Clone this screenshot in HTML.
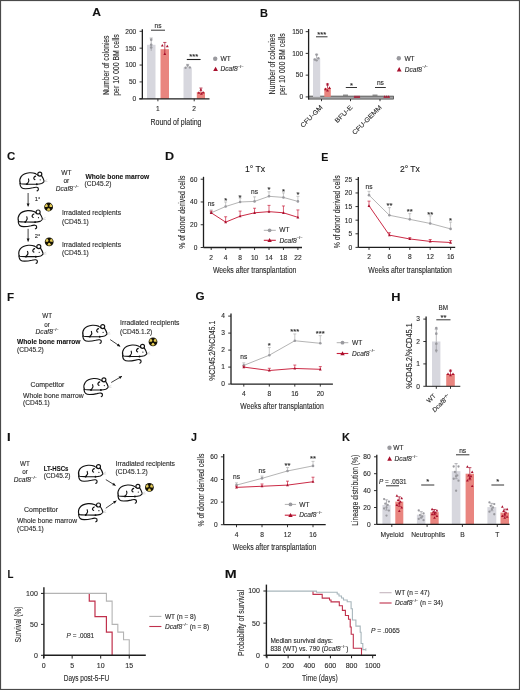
<!DOCTYPE html>
<html><head><meta charset="utf-8"><title>Figure</title>
<style>html,body{margin:0;padding:0;background:#fff;}svg{display:block;will-change:transform;}text{font-family:"Liberation Sans",sans-serif;stroke:#2a2a2a;stroke-width:0.12px;}</style>
</head><body>
<svg width="520" height="690" viewBox="0 0 520 690" font-family="Liberation Sans, sans-serif" fill="#2a2a2a">
<defs><g id="mouse" fill="none" stroke="#111" stroke-width="1.15" stroke-linecap="round" stroke-linejoin="round"><path d="M-0.1,11.6 C-0.8,9.5 -0.6,7 0.8,5 C2.2,3 5,1.4 9.1,1.05 C11.5,0.9 13.8,1.3 15.3,1.95 C16,2.3 16.6,2.7 17.5,3.4"/><path d="M21.2,3.9 C22.4,5.6 23.4,7.6 23.9,9.65 C23.2,10.6 22.4,11.3 21.4,11.8 C19.8,12.3 18.2,12.5 16.5,12.5 L6.65,12.4 C4.5,12.3 2,12.2 0.6,12 C0.2,11.9 0,11.8 -0.1,11.6"/><circle cx="19.5" cy="2.35" r="2.0" fill="#fff"/><path d="M8.2,7.2 C8.8,8.4 8.6,10.2 7.6,11.2 C7.3,11.6 7,12 6.65,12.4"/><path d="M15.3,4.4 C13.9,4.9 13.2,6.2 13.6,7 C13.9,7.6 14.2,7.8 14.6,7.9"/><path d="M-0.4,12.1 C-0.2,13.8 0.2,15 1.2,15.9 C2.2,16.8 3.6,17 5.2,17 C7.5,17 10.5,16.6 12.5,16.1 C14.2,15.6 15.5,15.4 16.5,15.6 C17.6,15.8 18.2,16.6 18.1,17.5 C18,18.4 17.5,19 16.8,19.2"/><circle cx="19.9" cy="8.1" r="0.6" fill="#111" stroke="none"/><circle cx="6.65" cy="12.4" r="0.95" fill="#111" stroke="none"/><circle cx="16.5" cy="12.5" r="0.95" fill="#111" stroke="none"/><path d="M24.2,9.4 L26.6,8 M24.3,9.9 L26.8,9.8" stroke="#bbb" stroke-width="0.5"/></g><g id="rad"><circle cx="0" cy="0" r="4.4" fill="#151205"/><path d="M-1.2,-0 L-3.7,-0 A3.7,3.7 0 0 1 -1.85,-3.2 L-0.6,-1.04 A1.2,1.2 0 0 0 -1.2,-0 Z" fill="#e4cb55"/><path d="M0.6,-1.04 L1.85,-3.2 A3.7,3.7 0 0 1 3.7,0 L1.2,0 A1.2,1.2 0 0 0 0.6,-1.04 Z" fill="#e4cb55"/><path d="M0.6,1.04 L1.85,3.2 A3.7,3.7 0 0 1 -1.85,3.2 L-0.6,1.04 A1.2,1.2 0 0 0 0.6,1.04 Z" fill="#e4cb55"/></g></defs>
<text transform="translate(92.3 16.35) scale(1.023 1)" x="0" y="0" font-size="11.8" font-weight="bold" fill="#111" stroke="#111">A</text>
<rect x="147" y="44.8" width="8.5" height="54" fill="#d7d7de"/>
<rect x="160.5" y="49.19" width="8.5" height="49.61" fill="#e9857f"/>
<rect x="183.5" y="67.41" width="8.3" height="31.39" fill="#d7d7de"/>
<rect x="196.8" y="92.05" width="8.2" height="6.75" fill="#e9857f"/>
<line x1="151.2" y1="44.8" x2="151.2" y2="38.05" stroke="#9a9a9f" stroke-width="0.7"/>
<line x1="149.6" y1="38.05" x2="152.8" y2="38.05" stroke="#9a9a9f" stroke-width="0.7"/>
<line x1="151.2" y1="44.8" x2="151.2" y2="50.87" stroke="#9a9a9f" stroke-width="0.7"/>
<line x1="164.8" y1="49.19" x2="164.8" y2="42.44" stroke="#a80f2c" stroke-width="0.7"/>
<line x1="163.2" y1="42.44" x2="166.4" y2="42.44" stroke="#a80f2c" stroke-width="0.7"/>
<line x1="164.8" y1="49.19" x2="164.8" y2="54.92" stroke="#a80f2c" stroke-width="0.7"/>
<line x1="187.6" y1="67.41" x2="187.6" y2="64.38" stroke="#9a9a9f" stroke-width="0.7"/>
<line x1="186" y1="64.38" x2="189.2" y2="64.38" stroke="#9a9a9f" stroke-width="0.7"/>
<line x1="200.9" y1="92.05" x2="200.9" y2="88" stroke="#a80f2c" stroke-width="0.7"/>
<line x1="199.3" y1="88" x2="202.5" y2="88" stroke="#a80f2c" stroke-width="0.7"/>
<circle cx="151.2" cy="39.74" r="1.3" fill="#9a9a9f"/>
<circle cx="151.2" cy="44.8" r="1.3" fill="#9a9a9f"/>
<circle cx="151.2" cy="47.5" r="1.3" fill="#9a9a9f"/>
<polygon points="162.3,43.97 160.88,46.6 163.73,46.6" fill="#a80f2c"/>
<polygon points="167.3,44.65 165.88,47.27 168.73,47.27" fill="#a80f2c"/>
<polygon points="164.8,52.41 163.38,55.04 166.23,55.04" fill="#a80f2c"/>
<circle cx="185.6" cy="67.75" r="1.2" fill="#9a9a9f"/>
<circle cx="187.6" cy="65.39" r="1.2" fill="#9a9a9f"/>
<circle cx="189.8" cy="67.41" r="1.2" fill="#9a9a9f"/>
<polygon points="198.9,91.22 197.47,93.85 200.33,93.85" fill="#a80f2c"/>
<polygon points="200.9,88.19 199.47,90.81 202.33,90.81" fill="#a80f2c"/>
<polygon points="203.1,90.89 201.67,93.51 204.53,93.51" fill="#a80f2c"/>
<polygon points="201.4,92.24 199.97,94.86 202.83,94.86" fill="#a80f2c"/>
<line x1="142.35" y1="29.2" x2="142.35" y2="98.8" stroke="#1e1e1e" stroke-width="1.3"/>
<line x1="139.55" y1="98.8" x2="142.35" y2="98.8" stroke="#1e1e1e" stroke-width="0.9"/>
<text x="136.25" y="101.18" font-size="6.6" text-anchor="end">0</text>
<line x1="139.55" y1="81.92" x2="142.35" y2="81.92" stroke="#1e1e1e" stroke-width="0.9"/>
<text x="136.25" y="84.3" font-size="6.6" text-anchor="end">50</text>
<line x1="139.55" y1="65.05" x2="142.35" y2="65.05" stroke="#1e1e1e" stroke-width="0.9"/>
<text x="136.25" y="67.43" font-size="6.6" text-anchor="end">100</text>
<line x1="139.55" y1="48.17" x2="142.35" y2="48.17" stroke="#1e1e1e" stroke-width="0.9"/>
<text x="136.25" y="50.55" font-size="6.6" text-anchor="end">150</text>
<line x1="139.55" y1="31.3" x2="142.35" y2="31.3" stroke="#1e1e1e" stroke-width="0.9"/>
<text x="136.25" y="33.68" font-size="6.6" text-anchor="end">200</text>
<line x1="139.2" y1="98.8" x2="209.5" y2="98.8" stroke="#1e1e1e" stroke-width="1.3"/>
<line x1="157.9" y1="98.8" x2="157.9" y2="101.3" stroke="#1e1e1e" stroke-width="0.9"/>
<text x="157.9" y="111.1" font-size="6.6" text-anchor="middle">1</text>
<line x1="194.2" y1="98.8" x2="194.2" y2="101.3" stroke="#1e1e1e" stroke-width="0.9"/>
<text x="194.2" y="111.1" font-size="6.6" text-anchor="middle">2</text>
<text x="176" y="125" font-size="8.4" text-anchor="middle" textLength="51" lengthAdjust="spacingAndGlyphs">Round of plating</text>
<text x="0" y="0" transform="translate(109.2 65.2) rotate(-90)" font-size="8.4" text-anchor="middle" textLength="59.5" lengthAdjust="spacingAndGlyphs">Number of colonies</text>
<text x="0" y="0" transform="translate(118.6 65) rotate(-90)" font-size="8.4" text-anchor="middle" textLength="61.5" lengthAdjust="spacingAndGlyphs">per 10 000 BM cells</text>
<line x1="151" y1="30.2" x2="165" y2="30.2" stroke="#1e1e1e" stroke-width="0.9"/>
<text x="158" y="28" font-size="6.6" text-anchor="middle">ns</text>
<line x1="186.8" y1="59.5" x2="200.6" y2="59.5" stroke="#1e1e1e" stroke-width="1.1"/>
<text x="193.7" y="59.2" font-size="7.6" text-anchor="middle">***</text>
<circle cx="215.2" cy="58.7" r="2.2" fill="#9a9a9f"/>
<text x="220.5" y="60.5" font-size="6.6">WT</text>
<polygon points="215.6,66.7 213.22,71.08 217.97,71.08" fill="#a80f2c"/>
<text x="220.5" y="71.1" font-size="6.6" fill="#2a2a2a"><tspan font-style="italic">Dcaf8</tspan><tspan font-size="4.09" dy="-3.3">&#8722;/&#8722;</tspan><tspan dy="3.3"></tspan></text>
<text transform="translate(260.07 16.5) scale(0.931 1)" x="0" y="0" font-size="11.8" font-weight="bold" fill="#111" stroke="#111">B</text>
<rect x="308.6" y="96.1" width="85" height="3" fill="#a2a2a4" stroke="#3a3a3a" stroke-width="0.7"/>
<rect x="313" y="58.62" width="7.2" height="38.28" fill="#d7d7de"/>
<rect x="324.3" y="88.2" width="6.5" height="8.7" fill="#e9857f"/>
<line x1="316.6" y1="58.62" x2="316.6" y2="54.27" stroke="#9a9a9f" stroke-width="0.7"/>
<line x1="315" y1="54.27" x2="318.2" y2="54.27" stroke="#9a9a9f" stroke-width="0.7"/>
<line x1="327.5" y1="88.2" x2="327.5" y2="83.85" stroke="#a80f2c" stroke-width="0.7"/>
<line x1="325.9" y1="83.85" x2="329.1" y2="83.85" stroke="#a80f2c" stroke-width="0.7"/>
<circle cx="314.8" cy="59.49" r="1.2" fill="#9a9a9f"/>
<circle cx="316.6" cy="54.71" r="1.2" fill="#9a9a9f"/>
<circle cx="318.4" cy="58.19" r="1.2" fill="#9a9a9f"/>
<circle cx="316.6" cy="60.36" r="1.2" fill="#9a9a9f"/>
<polygon points="325.5,87.57 324.07,90.2 326.93,90.2" fill="#a80f2c"/>
<polygon points="327.5,82.79 326.07,85.41 328.93,85.41" fill="#a80f2c"/>
<polygon points="329.5,86.27 328.07,88.89 330.93,88.89" fill="#a80f2c"/>
<polygon points="327.5,88.88 326.07,91.5 328.93,91.5" fill="#a80f2c"/>
<line x1="343" y1="95.2" x2="348" y2="95.2" stroke="#777" stroke-width="1.2"/>
<polygon points="355,95.2 353.67,97.65 356.33,97.65" fill="#a80f2c"/>
<polygon points="357,95.2 355.67,97.65 358.33,97.65" fill="#a80f2c"/>
<polygon points="359,95.2 357.67,97.65 360.33,97.65" fill="#a80f2c"/>
<line x1="372.5" y1="95.2" x2="377.5" y2="95.2" stroke="#777" stroke-width="1.2"/>
<polygon points="384.7,95.2 383.37,97.65 386.03,97.65" fill="#a80f2c"/>
<polygon points="386.7,95.2 385.37,97.65 388.03,97.65" fill="#a80f2c"/>
<polygon points="388.7,95.2 387.37,97.65 390.03,97.65" fill="#a80f2c"/>
<line x1="308.6" y1="29" x2="308.6" y2="99.5" stroke="#1e1e1e" stroke-width="1.3"/>
<line x1="305.7" y1="96.9" x2="308.5" y2="96.9" stroke="#1e1e1e" stroke-width="0.9"/>
<text x="303.2" y="99.2" font-size="6.6" text-anchor="end">0</text>
<line x1="305.7" y1="75.15" x2="308.5" y2="75.15" stroke="#1e1e1e" stroke-width="0.9"/>
<text x="303.2" y="77.45" font-size="6.6" text-anchor="end">50</text>
<line x1="305.7" y1="53.4" x2="308.5" y2="53.4" stroke="#1e1e1e" stroke-width="0.9"/>
<text x="303.2" y="55.7" font-size="6.6" text-anchor="end">100</text>
<line x1="305.7" y1="31.65" x2="308.5" y2="31.65" stroke="#1e1e1e" stroke-width="0.9"/>
<text x="303.2" y="33.95" font-size="6.6" text-anchor="end">150</text>
<line x1="321.5" y1="99" x2="321.5" y2="101.2" stroke="#1e1e1e" stroke-width="0.9"/>
<line x1="350.5" y1="99" x2="350.5" y2="101.2" stroke="#1e1e1e" stroke-width="0.9"/>
<line x1="380" y1="99" x2="380" y2="101.2" stroke="#1e1e1e" stroke-width="0.9"/>
<text x="0" y="0" transform="translate(275.3 64.2) rotate(-90)" font-size="8.4" text-anchor="middle" textLength="60.8" lengthAdjust="spacingAndGlyphs">Number of colonies</text>
<text x="0" y="0" transform="translate(285 64.2) rotate(-90)" font-size="8.4" text-anchor="middle" textLength="61.8" lengthAdjust="spacingAndGlyphs">per 10 000 BM cells</text>
<line x1="316" y1="36.8" x2="327.5" y2="36.8" stroke="#1e1e1e" stroke-width="0.9"/>
<text x="321.8" y="36.9" font-size="7.6" text-anchor="middle">***</text>
<line x1="345.8" y1="87.5" x2="357" y2="87.5" stroke="#1e1e1e" stroke-width="0.9"/>
<text x="351.4" y="87.6" font-size="7.6" text-anchor="middle">*</text>
<line x1="375" y1="87.5" x2="385.8" y2="87.5" stroke="#1e1e1e" stroke-width="0.9"/>
<text x="380.4" y="85.4" font-size="6.6" text-anchor="middle">ns</text>
<circle cx="398.8" cy="58.3" r="2.2" fill="#9a9a9f"/>
<text x="404.4" y="60.9" font-size="6.6">WT</text>
<polygon points="399.2,67.1 396.82,71.47 401.57,71.47" fill="#a80f2c"/>
<text x="404.8" y="71.5" font-size="6.6" fill="#2a2a2a"><tspan font-style="italic">Dcaf8</tspan><tspan font-size="4.09" dy="-3.3">&#8722;/&#8722;</tspan><tspan dy="3.3"></tspan></text>
<text transform="translate(321.5 106.2) rotate(-45)" x="0" y="0" font-size="6.4" text-anchor="end" textLength="28.5" lengthAdjust="spacingAndGlyphs" dy="2.2">CFU-GM</text>
<text transform="translate(351.3 106.2) rotate(-45)" x="0" y="0" font-size="6.4" text-anchor="end" textLength="22" lengthAdjust="spacingAndGlyphs" dy="2.2">BFU-E</text>
<text transform="translate(380.5 106.2) rotate(-45)" x="0" y="0" font-size="6.4" text-anchor="end" textLength="38.5" lengthAdjust="spacingAndGlyphs" dy="2.2">CFU-GEMM</text>
<text transform="translate(6.93 160.38) scale(0.972 1)" x="0" y="0" font-size="11.8" font-weight="bold" fill="#111" stroke="#111">C</text>
<use href="#mouse" transform="translate(20.3 171.7) scale(1)"/>
<text x="66.4" y="175.3" font-size="6.6" text-anchor="middle">WT</text>
<text x="66.4" y="183.3" font-size="6.6" text-anchor="middle">or</text>
<text x="55.8" y="191.2" font-size="6.6" fill="#2a2a2a"><tspan font-style="italic">Dcaf8</tspan><tspan font-size="4.09" dy="-3.3">&#8722;/&#8722;</tspan><tspan dy="3.3"></tspan></text>
<text x="85.5" y="178.9" font-size="7" font-weight="bold" fill="#111" textLength="63.7" lengthAdjust="spacingAndGlyphs">Whole bone marrow</text>
<text x="84.6" y="186.4" font-size="6.6">(CD45.2)</text>
<line x1="28.1" y1="193" x2="28.1" y2="206.4" stroke="#111" stroke-width="0.8"/>
<polygon points="28.1,206.4 26.6,203.4 29.6,203.4" fill="#111"/>
<text x="34.8" y="201.4" font-size="5.8">1°</text>
<use href="#rad" transform="translate(48.6 207) scale(1)"/>
<use href="#mouse" transform="translate(18.6 209.6) scale(1)"/>
<text x="62" y="215.3" font-size="6.6" textLength="59" lengthAdjust="spacingAndGlyphs">Irradiated recipients</text>
<text x="62" y="223.5" font-size="6.6">(CD45.1)</text>
<line x1="28.1" y1="228.8" x2="28.1" y2="241.6" stroke="#111" stroke-width="0.8"/>
<polygon points="28.1,241.6 26.6,238.6 29.6,238.6" fill="#111"/>
<text x="34.8" y="237.8" font-size="5.8">2°</text>
<use href="#rad" transform="translate(49.2 241.8) scale(1)"/>
<use href="#mouse" transform="translate(19.3 244.2) scale(1)"/>
<text x="62" y="246.8" font-size="6.6" textLength="59" lengthAdjust="spacingAndGlyphs">Irradiated recipients</text>
<text x="62" y="254.8" font-size="6.6">(CD45.1)</text>
<text transform="translate(164.96 160.3) scale(1.064 1)" x="0" y="0" font-size="11.8" font-weight="bold" fill="#111" stroke="#111">D</text>
<polyline points="211.2,212.79 225.65,206.53 240.1,201.98 254.55,201.41 269,196.29 283.45,197.43 297.9,201.41" fill="none" stroke="#b0b0b0" stroke-width="0.95"/>
<polyline points="211.2,212.79 225.65,222.12 240.1,216.21 254.55,212.79 269,211.65 283.45,212.79 297.9,217.34" fill="none" stroke="#c8203c" stroke-width="0.95"/>
<line x1="211.2" y1="212.79" x2="211.2" y2="209.95" stroke="#b0b0b0" stroke-width="0.7"/>
<line x1="209.7" y1="209.95" x2="212.7" y2="209.95" stroke="#b0b0b0" stroke-width="0.7"/>
<circle cx="211.2" cy="212.79" r="1.3" fill="#9a9a9f"/>
<line x1="225.65" y1="206.53" x2="225.65" y2="201.98" stroke="#b0b0b0" stroke-width="0.7"/>
<line x1="224.15" y1="201.98" x2="227.15" y2="201.98" stroke="#b0b0b0" stroke-width="0.7"/>
<circle cx="225.65" cy="206.53" r="1.3" fill="#9a9a9f"/>
<line x1="240.1" y1="201.98" x2="240.1" y2="198" stroke="#b0b0b0" stroke-width="0.7"/>
<line x1="238.6" y1="198" x2="241.6" y2="198" stroke="#b0b0b0" stroke-width="0.7"/>
<circle cx="240.1" cy="201.98" r="1.3" fill="#9a9a9f"/>
<line x1="254.55" y1="201.41" x2="254.55" y2="196.86" stroke="#b0b0b0" stroke-width="0.7"/>
<line x1="253.05" y1="196.86" x2="256.05" y2="196.86" stroke="#b0b0b0" stroke-width="0.7"/>
<circle cx="254.55" cy="201.41" r="1.3" fill="#9a9a9f"/>
<line x1="269" y1="196.29" x2="269" y2="191.74" stroke="#b0b0b0" stroke-width="0.7"/>
<line x1="267.5" y1="191.74" x2="270.5" y2="191.74" stroke="#b0b0b0" stroke-width="0.7"/>
<circle cx="269" cy="196.29" r="1.3" fill="#9a9a9f"/>
<line x1="283.45" y1="197.43" x2="283.45" y2="192.88" stroke="#b0b0b0" stroke-width="0.7"/>
<line x1="281.95" y1="192.88" x2="284.95" y2="192.88" stroke="#b0b0b0" stroke-width="0.7"/>
<circle cx="283.45" cy="197.43" r="1.3" fill="#9a9a9f"/>
<line x1="297.9" y1="201.41" x2="297.9" y2="196.29" stroke="#b0b0b0" stroke-width="0.7"/>
<line x1="296.4" y1="196.29" x2="299.4" y2="196.29" stroke="#b0b0b0" stroke-width="0.7"/>
<circle cx="297.9" cy="201.41" r="1.3" fill="#9a9a9f"/>
<line x1="211.2" y1="212.79" x2="211.2" y2="211.08" stroke="#c8203c" stroke-width="0.7"/>
<line x1="209.7" y1="211.08" x2="212.7" y2="211.08" stroke="#c8203c" stroke-width="0.7"/>
<polygon points="211.2,211.29 209.77,213.92 212.62,213.92" fill="#a80f2c"/>
<line x1="225.65" y1="222.12" x2="225.65" y2="216.77" stroke="#c8203c" stroke-width="0.7"/>
<line x1="224.15" y1="216.77" x2="227.15" y2="216.77" stroke="#c8203c" stroke-width="0.7"/>
<polygon points="225.65,220.62 224.22,223.25 227.07,223.25" fill="#a80f2c"/>
<line x1="240.1" y1="216.21" x2="240.1" y2="211.08" stroke="#c8203c" stroke-width="0.7"/>
<line x1="238.6" y1="211.08" x2="241.6" y2="211.08" stroke="#c8203c" stroke-width="0.7"/>
<polygon points="240.1,214.71 238.67,217.33 241.53,217.33" fill="#a80f2c"/>
<line x1="254.55" y1="212.79" x2="254.55" y2="208.24" stroke="#c8203c" stroke-width="0.7"/>
<line x1="253.05" y1="208.24" x2="256.05" y2="208.24" stroke="#c8203c" stroke-width="0.7"/>
<polygon points="254.55,211.29 253.12,213.92 255.97,213.92" fill="#a80f2c"/>
<line x1="269" y1="211.65" x2="269" y2="205.39" stroke="#c8203c" stroke-width="0.7"/>
<line x1="267.5" y1="205.39" x2="270.5" y2="205.39" stroke="#c8203c" stroke-width="0.7"/>
<polygon points="269,210.15 267.57,212.78 270.43,212.78" fill="#a80f2c"/>
<line x1="283.45" y1="212.79" x2="283.45" y2="205.96" stroke="#c8203c" stroke-width="0.7"/>
<line x1="281.95" y1="205.96" x2="284.95" y2="205.96" stroke="#c8203c" stroke-width="0.7"/>
<polygon points="283.45,211.29 282.02,213.92 284.88,213.92" fill="#a80f2c"/>
<line x1="297.9" y1="217.34" x2="297.9" y2="209.95" stroke="#c8203c" stroke-width="0.7"/>
<line x1="296.4" y1="209.95" x2="299.4" y2="209.95" stroke="#c8203c" stroke-width="0.7"/>
<polygon points="297.9,215.84 296.47,218.47 299.32,218.47" fill="#a80f2c"/>
<line x1="203.5" y1="176.8" x2="203.5" y2="247.5" stroke="#1e1e1e" stroke-width="1.3"/>
<line x1="200.7" y1="247.5" x2="203.5" y2="247.5" stroke="#1e1e1e" stroke-width="0.9"/>
<text x="197.4" y="249.88" font-size="6.6" text-anchor="end">0</text>
<line x1="200.7" y1="224.74" x2="203.5" y2="224.74" stroke="#1e1e1e" stroke-width="0.9"/>
<text x="197.4" y="227.12" font-size="6.6" text-anchor="end">20</text>
<line x1="200.7" y1="201.98" x2="203.5" y2="201.98" stroke="#1e1e1e" stroke-width="0.9"/>
<text x="197.4" y="204.36" font-size="6.6" text-anchor="end">40</text>
<line x1="200.7" y1="179.22" x2="203.5" y2="179.22" stroke="#1e1e1e" stroke-width="0.9"/>
<text x="197.4" y="181.6" font-size="6.6" text-anchor="end">60</text>
<line x1="203.5" y1="247.5" x2="302" y2="247.5" stroke="#1e1e1e" stroke-width="1.3"/>
<line x1="211.2" y1="247.5" x2="211.2" y2="250" stroke="#1e1e1e" stroke-width="0.9"/>
<text x="211.2" y="259.9" font-size="6.6" text-anchor="middle">2</text>
<line x1="225.65" y1="247.5" x2="225.65" y2="250" stroke="#1e1e1e" stroke-width="0.9"/>
<text x="225.65" y="259.9" font-size="6.6" text-anchor="middle">4</text>
<line x1="240.1" y1="247.5" x2="240.1" y2="250" stroke="#1e1e1e" stroke-width="0.9"/>
<text x="240.1" y="259.9" font-size="6.6" text-anchor="middle">8</text>
<line x1="254.55" y1="247.5" x2="254.55" y2="250" stroke="#1e1e1e" stroke-width="0.9"/>
<text x="254.55" y="259.9" font-size="6.6" text-anchor="middle">10</text>
<line x1="269" y1="247.5" x2="269" y2="250" stroke="#1e1e1e" stroke-width="0.9"/>
<text x="269" y="259.9" font-size="6.6" text-anchor="middle">14</text>
<line x1="283.45" y1="247.5" x2="283.45" y2="250" stroke="#1e1e1e" stroke-width="0.9"/>
<text x="283.45" y="259.9" font-size="6.6" text-anchor="middle">18</text>
<line x1="297.9" y1="247.5" x2="297.9" y2="250" stroke="#1e1e1e" stroke-width="0.9"/>
<text x="297.9" y="259.9" font-size="6.6" text-anchor="middle">22</text>
<text x="254.6" y="273.2" font-size="8.4" text-anchor="middle" textLength="83.4" lengthAdjust="spacingAndGlyphs">Weeks after transplantation</text>
<text x="0" y="0" transform="translate(184.6 212.2) rotate(-90)" font-size="8.4" text-anchor="middle" textLength="73.3" lengthAdjust="spacingAndGlyphs">% of donor derived cells</text>
<text x="255" y="171.8" font-size="9" text-anchor="middle" fill="#111" textLength="20.2" lengthAdjust="spacingAndGlyphs">1° Tx</text>
<text x="211.2" y="205.5" font-size="6.6" text-anchor="middle">ns</text>
<text x="225.65" y="202.5" font-size="7.6" text-anchor="middle">*</text>
<text x="240.1" y="199.8" font-size="7.6" text-anchor="middle">*</text>
<text x="254.55" y="193.5" font-size="6.6" text-anchor="middle">ns</text>
<text x="269" y="191.7" font-size="7.6" text-anchor="middle">*</text>
<text x="283.45" y="194.4" font-size="7.6" text-anchor="middle">*</text>
<text x="297.9" y="196.8" font-size="7.6" text-anchor="middle">*</text>
<line x1="263.8" y1="230.3" x2="275.8" y2="230.3" stroke="#b0b0b0" stroke-width="1"/>
<circle cx="269.6" cy="230.3" r="1.9" fill="#9a9a9f"/>
<text x="279.3" y="232.3" font-size="6.6">WT</text>
<line x1="263.8" y1="240.3" x2="275.8" y2="240.3" stroke="#c8203c" stroke-width="1.1"/>
<polygon points="269.6,238 267.42,242.03 271.79,242.03" fill="#a80f2c"/>
<text x="279.5" y="242.5" font-size="6.6" fill="#2a2a2a"><tspan font-style="italic">Dcaf8</tspan><tspan font-size="4.09" dy="-3.3">&#8722;/&#8722;</tspan><tspan dy="3.3"></tspan></text>
<text transform="translate(321.28 160.5) scale(0.906 1)" x="0" y="0" font-size="11.8" font-weight="bold" fill="#111" stroke="#111">E</text>
<polyline points="369,195.14 389.4,215.28 409.8,219.36 430.2,223.45 450.6,228.89" fill="none" stroke="#b0b0b0" stroke-width="0.95"/>
<polyline points="369,205.75 389.4,235.15 409.8,238.96 430.2,241.41 450.6,242.5" fill="none" stroke="#c8203c" stroke-width="0.95"/>
<line x1="369" y1="195.14" x2="369" y2="191.33" stroke="#b0b0b0" stroke-width="0.7"/>
<line x1="367.5" y1="191.33" x2="370.5" y2="191.33" stroke="#b0b0b0" stroke-width="0.7"/>
<circle cx="369" cy="195.14" r="1.3" fill="#9a9a9f"/>
<line x1="389.4" y1="215.28" x2="389.4" y2="207.66" stroke="#b0b0b0" stroke-width="0.7"/>
<line x1="387.9" y1="207.66" x2="390.9" y2="207.66" stroke="#b0b0b0" stroke-width="0.7"/>
<circle cx="389.4" cy="215.28" r="1.3" fill="#9a9a9f"/>
<line x1="409.8" y1="219.36" x2="409.8" y2="213.65" stroke="#b0b0b0" stroke-width="0.7"/>
<line x1="408.3" y1="213.65" x2="411.3" y2="213.65" stroke="#b0b0b0" stroke-width="0.7"/>
<circle cx="409.8" cy="219.36" r="1.3" fill="#9a9a9f"/>
<line x1="430.2" y1="223.45" x2="430.2" y2="215.82" stroke="#b0b0b0" stroke-width="0.7"/>
<line x1="428.7" y1="215.82" x2="431.7" y2="215.82" stroke="#b0b0b0" stroke-width="0.7"/>
<circle cx="430.2" cy="223.45" r="1.3" fill="#9a9a9f"/>
<line x1="450.6" y1="228.89" x2="450.6" y2="222.09" stroke="#b0b0b0" stroke-width="0.7"/>
<line x1="449.1" y1="222.09" x2="452.1" y2="222.09" stroke="#b0b0b0" stroke-width="0.7"/>
<circle cx="450.6" cy="228.89" r="1.3" fill="#9a9a9f"/>
<line x1="369" y1="205.75" x2="369" y2="201.13" stroke="#c8203c" stroke-width="0.7"/>
<line x1="367.5" y1="201.13" x2="370.5" y2="201.13" stroke="#c8203c" stroke-width="0.7"/>
<polygon points="369,204.25 367.57,206.88 370.43,206.88" fill="#a80f2c"/>
<line x1="389.4" y1="235.15" x2="389.4" y2="232.7" stroke="#c8203c" stroke-width="0.7"/>
<line x1="387.9" y1="232.7" x2="390.9" y2="232.7" stroke="#c8203c" stroke-width="0.7"/>
<polygon points="389.4,233.65 387.97,236.28 390.82,236.28" fill="#a80f2c"/>
<line x1="409.8" y1="238.96" x2="409.8" y2="237.6" stroke="#c8203c" stroke-width="0.7"/>
<line x1="408.3" y1="237.6" x2="411.3" y2="237.6" stroke="#c8203c" stroke-width="0.7"/>
<polygon points="409.8,237.46 408.38,240.09 411.23,240.09" fill="#a80f2c"/>
<line x1="430.2" y1="241.41" x2="430.2" y2="239.51" stroke="#c8203c" stroke-width="0.7"/>
<line x1="428.7" y1="239.51" x2="431.7" y2="239.51" stroke="#c8203c" stroke-width="0.7"/>
<polygon points="430.2,239.91 428.77,242.54 431.62,242.54" fill="#a80f2c"/>
<line x1="450.6" y1="242.5" x2="450.6" y2="240.59" stroke="#c8203c" stroke-width="0.7"/>
<line x1="449.1" y1="240.59" x2="452.1" y2="240.59" stroke="#c8203c" stroke-width="0.7"/>
<polygon points="450.6,241 449.18,243.63 452.03,243.63" fill="#a80f2c"/>
<line x1="358.3" y1="176.9" x2="358.3" y2="247.4" stroke="#1e1e1e" stroke-width="1.3"/>
<line x1="355.5" y1="247.4" x2="358.3" y2="247.4" stroke="#1e1e1e" stroke-width="0.9"/>
<text x="352.2" y="249.78" font-size="6.6" text-anchor="end">0</text>
<line x1="355.5" y1="233.79" x2="358.3" y2="233.79" stroke="#1e1e1e" stroke-width="0.9"/>
<text x="352.2" y="236.17" font-size="6.6" text-anchor="end">5</text>
<line x1="355.5" y1="220.18" x2="358.3" y2="220.18" stroke="#1e1e1e" stroke-width="0.9"/>
<text x="352.2" y="222.56" font-size="6.6" text-anchor="end">10</text>
<line x1="355.5" y1="206.57" x2="358.3" y2="206.57" stroke="#1e1e1e" stroke-width="0.9"/>
<text x="352.2" y="208.95" font-size="6.6" text-anchor="end">15</text>
<line x1="355.5" y1="192.96" x2="358.3" y2="192.96" stroke="#1e1e1e" stroke-width="0.9"/>
<text x="352.2" y="195.34" font-size="6.6" text-anchor="end">20</text>
<line x1="355.5" y1="179.35" x2="358.3" y2="179.35" stroke="#1e1e1e" stroke-width="0.9"/>
<text x="352.2" y="181.73" font-size="6.6" text-anchor="end">25</text>
<line x1="358.3" y1="247.4" x2="455.2" y2="247.4" stroke="#1e1e1e" stroke-width="1.3"/>
<line x1="369" y1="247.4" x2="369" y2="249.9" stroke="#1e1e1e" stroke-width="0.9"/>
<text x="369" y="259.4" font-size="6.6" text-anchor="middle">2</text>
<line x1="389.4" y1="247.4" x2="389.4" y2="249.9" stroke="#1e1e1e" stroke-width="0.9"/>
<text x="389.4" y="259.4" font-size="6.6" text-anchor="middle">6</text>
<line x1="409.8" y1="247.4" x2="409.8" y2="249.9" stroke="#1e1e1e" stroke-width="0.9"/>
<text x="409.8" y="259.4" font-size="6.6" text-anchor="middle">8</text>
<line x1="430.2" y1="247.4" x2="430.2" y2="249.9" stroke="#1e1e1e" stroke-width="0.9"/>
<text x="430.2" y="259.4" font-size="6.6" text-anchor="middle">12</text>
<line x1="450.6" y1="247.4" x2="450.6" y2="249.9" stroke="#1e1e1e" stroke-width="0.9"/>
<text x="450.6" y="259.4" font-size="6.6" text-anchor="middle">16</text>
<text x="410" y="273" font-size="8.4" text-anchor="middle" textLength="83.4" lengthAdjust="spacingAndGlyphs">Weeks after transplantation</text>
<text x="0" y="0" transform="translate(340 211.8) rotate(-90)" font-size="8.4" text-anchor="middle" textLength="73" lengthAdjust="spacingAndGlyphs">% of donor derived cells</text>
<text x="409.9" y="171.7" font-size="9" text-anchor="middle" fill="#111" textLength="20" lengthAdjust="spacingAndGlyphs">2° Tx</text>
<text x="369" y="188.8" font-size="6.6" text-anchor="middle">ns</text>
<text x="389.4" y="208.3" font-size="7.6" text-anchor="middle">**</text>
<text x="409.8" y="213.7" font-size="7.6" text-anchor="middle">**</text>
<text x="430.2" y="216.6" font-size="7.6" text-anchor="middle">**</text>
<text x="450.6" y="222.5" font-size="7.6" text-anchor="middle">*</text>
<text transform="translate(7.02 300.6) scale(0.986 1)" x="0" y="0" font-size="11.8" font-weight="bold" fill="#111" stroke="#111">F</text>
<text x="47.1" y="318" font-size="6.3" text-anchor="middle">WT</text>
<text x="47.1" y="326.6" font-size="6.3" text-anchor="middle">or</text>
<text x="35.6" y="334" font-size="6.6" fill="#2a2a2a"><tspan font-style="italic">Dcaf8</tspan><tspan font-size="4.09" dy="-3.3">&#8722;/&#8722;</tspan><tspan dy="3.3"></tspan></text>
<text x="17" y="344.2" font-size="6.8" font-weight="bold" fill="#111" textLength="63.5" lengthAdjust="spacingAndGlyphs">Whole bone marrow</text>
<text x="17" y="351.5" font-size="6.6">(CD45.2)</text>
<use href="#mouse" transform="translate(83.2 324.2) scale(1)"/>
<text x="120" y="325.3" font-size="6.6" textLength="59.5" lengthAdjust="spacingAndGlyphs">Irradiated recipients</text>
<text x="120" y="333.5" font-size="6.6">(CD45.1.2)</text>
<use href="#rad" transform="translate(153 341.8) scale(1)"/>
<line x1="110.2" y1="339.6" x2="120.2" y2="346.4" stroke="#111" stroke-width="0.8"/>
<polygon points="120.2,346.4 116.88,345.95 118.56,343.47" fill="#111"/>
<use href="#mouse" transform="translate(123 344) scale(1)"/>
<use href="#mouse" transform="translate(84.4 377.5) scale(1)"/>
<line x1="111.2" y1="382.5" x2="122" y2="376.2" stroke="#111" stroke-width="0.8"/>
<polygon points="122,376.2 120.16,379.01 118.65,376.42" fill="#111"/>
<text x="47.4" y="386.9" font-size="6.6" text-anchor="middle" textLength="34" lengthAdjust="spacingAndGlyphs">Competitor</text>
<text x="23" y="397.5" font-size="6.6" textLength="60.7" lengthAdjust="spacingAndGlyphs">Whole bone marrow</text>
<text x="23" y="404.6" font-size="6.6">(CD45.1)</text>
<text transform="translate(195.52 300.48) scale(0.992 1)" x="0" y="0" font-size="11.8" font-weight="bold" fill="#111" stroke="#111">G</text>
<polyline points="243.8,365.4 269.3,355.2 294.8,340.75 320.3,343.3" fill="none" stroke="#b0b0b0" stroke-width="0.95"/>
<polyline points="243.8,367.1 269.3,370.5 294.8,368.46 320.3,369.31" fill="none" stroke="#c8203c" stroke-width="0.95"/>
<line x1="243.8" y1="365.4" x2="243.8" y2="362.85" stroke="#b0b0b0" stroke-width="0.7"/>
<line x1="242.3" y1="362.85" x2="245.3" y2="362.85" stroke="#b0b0b0" stroke-width="0.7"/>
<circle cx="243.8" cy="365.4" r="1.3" fill="#9a9a9f"/>
<line x1="269.3" y1="355.2" x2="269.3" y2="347.55" stroke="#b0b0b0" stroke-width="0.7"/>
<line x1="267.8" y1="347.55" x2="270.8" y2="347.55" stroke="#b0b0b0" stroke-width="0.7"/>
<circle cx="269.3" cy="355.2" r="1.3" fill="#9a9a9f"/>
<line x1="294.8" y1="340.75" x2="294.8" y2="333.95" stroke="#b0b0b0" stroke-width="0.7"/>
<line x1="293.3" y1="333.95" x2="296.3" y2="333.95" stroke="#b0b0b0" stroke-width="0.7"/>
<circle cx="294.8" cy="340.75" r="1.3" fill="#9a9a9f"/>
<line x1="320.3" y1="343.3" x2="320.3" y2="335.65" stroke="#b0b0b0" stroke-width="0.7"/>
<line x1="318.8" y1="335.65" x2="321.8" y2="335.65" stroke="#b0b0b0" stroke-width="0.7"/>
<circle cx="320.3" cy="343.3" r="1.3" fill="#9a9a9f"/>
<line x1="243.8" y1="367.1" x2="243.8" y2="366.08" stroke="#c8203c" stroke-width="0.7"/>
<line x1="242.3" y1="366.08" x2="245.3" y2="366.08" stroke="#c8203c" stroke-width="0.7"/>
<polygon points="243.8,365.6 242.38,368.23 245.23,368.23" fill="#a80f2c"/>
<line x1="269.3" y1="370.5" x2="269.3" y2="368.29" stroke="#c8203c" stroke-width="0.7"/>
<line x1="267.8" y1="368.29" x2="270.8" y2="368.29" stroke="#c8203c" stroke-width="0.7"/>
<polygon points="269.3,369 267.88,371.62 270.73,371.62" fill="#a80f2c"/>
<line x1="294.8" y1="368.46" x2="294.8" y2="365.06" stroke="#c8203c" stroke-width="0.7"/>
<line x1="293.3" y1="365.06" x2="296.3" y2="365.06" stroke="#c8203c" stroke-width="0.7"/>
<polygon points="294.8,366.96 293.38,369.59 296.23,369.59" fill="#a80f2c"/>
<line x1="320.3" y1="369.31" x2="320.3" y2="366.59" stroke="#c8203c" stroke-width="0.7"/>
<line x1="318.8" y1="366.59" x2="321.8" y2="366.59" stroke="#c8203c" stroke-width="0.7"/>
<polygon points="320.3,367.81 318.88,370.44 321.73,370.44" fill="#a80f2c"/>
<line x1="231" y1="313.5" x2="231" y2="384.1" stroke="#1e1e1e" stroke-width="1.3"/>
<line x1="228.2" y1="384.1" x2="231" y2="384.1" stroke="#1e1e1e" stroke-width="0.9"/>
<text x="224.9" y="386.48" font-size="6.6" text-anchor="end">0</text>
<line x1="228.2" y1="367.1" x2="231" y2="367.1" stroke="#1e1e1e" stroke-width="0.9"/>
<text x="224.9" y="369.48" font-size="6.6" text-anchor="end">1</text>
<line x1="228.2" y1="350.1" x2="231" y2="350.1" stroke="#1e1e1e" stroke-width="0.9"/>
<text x="224.9" y="352.48" font-size="6.6" text-anchor="end">2</text>
<line x1="228.2" y1="333.1" x2="231" y2="333.1" stroke="#1e1e1e" stroke-width="0.9"/>
<text x="224.9" y="335.48" font-size="6.6" text-anchor="end">3</text>
<line x1="228.2" y1="316.1" x2="231" y2="316.1" stroke="#1e1e1e" stroke-width="0.9"/>
<text x="224.9" y="318.48" font-size="6.6" text-anchor="end">4</text>
<line x1="231" y1="384.1" x2="332.9" y2="384.1" stroke="#1e1e1e" stroke-width="1.3"/>
<line x1="243.8" y1="384.1" x2="243.8" y2="386.6" stroke="#1e1e1e" stroke-width="0.9"/>
<text x="243.8" y="396.1" font-size="6.6" text-anchor="middle">4</text>
<line x1="269.3" y1="384.1" x2="269.3" y2="386.6" stroke="#1e1e1e" stroke-width="0.9"/>
<text x="269.3" y="396.1" font-size="6.6" text-anchor="middle">8</text>
<line x1="294.8" y1="384.1" x2="294.8" y2="386.6" stroke="#1e1e1e" stroke-width="0.9"/>
<text x="294.8" y="396.1" font-size="6.6" text-anchor="middle">16</text>
<line x1="320.3" y1="384.1" x2="320.3" y2="386.6" stroke="#1e1e1e" stroke-width="0.9"/>
<text x="320.3" y="396.1" font-size="6.6" text-anchor="middle">20</text>
<text x="282" y="409.3" font-size="8.4" text-anchor="middle" textLength="83.4" lengthAdjust="spacingAndGlyphs">Weeks after transplantation</text>
<text x="0" y="0" transform="translate(215.4 350.7) rotate(-90)" font-size="8.4" text-anchor="middle" textLength="60" lengthAdjust="spacingAndGlyphs">%CD45.2/%CD45.1</text>
<text x="243.8" y="359.4" font-size="6.6" text-anchor="middle">ns</text>
<text x="269.3" y="348" font-size="7.6" text-anchor="middle">*</text>
<text x="294.8" y="333.6" font-size="7.6" text-anchor="middle">***</text>
<text x="320.3" y="335.5" font-size="7.6" text-anchor="middle">***</text>
<line x1="336.7" y1="342.7" x2="348.3" y2="342.7" stroke="#b0b0b0" stroke-width="1"/>
<circle cx="342.5" cy="342.7" r="1.9" fill="#9a9a9f"/>
<text x="352.1" y="344.9" font-size="6.6">WT</text>
<line x1="336.7" y1="353.5" x2="348.3" y2="353.5" stroke="#c8203c" stroke-width="1.1"/>
<polygon points="342.5,351.2 340.31,355.23 344.69,355.23" fill="#a80f2c"/>
<text x="352.1" y="355.7" font-size="6.6" fill="#2a2a2a"><tspan font-style="italic">Dcaf8</tspan><tspan font-size="4.09" dy="-3.3">&#8722;/&#8722;</tspan><tspan dy="3.3"></tspan></text>
<text transform="translate(391.15 300.6) scale(1.081 1)" x="0" y="0" font-size="11.8" font-weight="bold" fill="#111" stroke="#111">H</text>
<rect x="432" y="341.5" width="8.4" height="44.8" fill="#d7d7de"/>
<rect x="446.2" y="373.98" width="8.6" height="12.32" fill="#e9857f"/>
<line x1="436.3" y1="341.5" x2="436.3" y2="329.18" stroke="#9a9a9f" stroke-width="0.7"/>
<line x1="434.7" y1="329.18" x2="437.9" y2="329.18" stroke="#9a9a9f" stroke-width="0.7"/>
<line x1="436.3" y1="341.5" x2="436.3" y2="352.7" stroke="#9a9a9f" stroke-width="0.7"/>
<line x1="450.5" y1="373.98" x2="450.5" y2="370.17" stroke="#a80f2c" stroke-width="0.7"/>
<line x1="448.9" y1="370.17" x2="452.1" y2="370.17" stroke="#a80f2c" stroke-width="0.7"/>
<circle cx="436.3" cy="328.06" r="1.3" fill="#9a9a9f"/>
<circle cx="436.3" cy="333.66" r="1.3" fill="#9a9a9f"/>
<circle cx="436.3" cy="343.74" r="1.3" fill="#9a9a9f"/>
<circle cx="436.3" cy="350.46" r="1.3" fill="#9a9a9f"/>
<polygon points="448,372.48 446.57,375.11 449.43,375.11" fill="#a80f2c"/>
<polygon points="450.5,369.12 449.07,371.75 451.93,371.75" fill="#a80f2c"/>
<polygon points="453,372.48 451.57,375.11 454.43,375.11" fill="#a80f2c"/>
<polygon points="450.5,373.6 449.07,376.23 451.93,376.23" fill="#a80f2c"/>
<line x1="426.1" y1="316.5" x2="426.1" y2="386.3" stroke="#1e1e1e" stroke-width="1.3"/>
<line x1="423.3" y1="386.3" x2="426.1" y2="386.3" stroke="#1e1e1e" stroke-width="0.9"/>
<text x="420" y="388.68" font-size="6.6" text-anchor="end">0</text>
<line x1="423.3" y1="363.9" x2="426.1" y2="363.9" stroke="#1e1e1e" stroke-width="0.9"/>
<text x="420" y="366.28" font-size="6.6" text-anchor="end">1</text>
<line x1="423.3" y1="341.5" x2="426.1" y2="341.5" stroke="#1e1e1e" stroke-width="0.9"/>
<text x="420" y="343.88" font-size="6.6" text-anchor="end">2</text>
<line x1="423.3" y1="319.1" x2="426.1" y2="319.1" stroke="#1e1e1e" stroke-width="0.9"/>
<text x="420" y="321.48" font-size="6.6" text-anchor="end">3</text>
<line x1="426.1" y1="386.3" x2="460.3" y2="386.3" stroke="#1e1e1e" stroke-width="1"/>
<line x1="436.3" y1="386.3" x2="436.3" y2="388.8" stroke="#1e1e1e" stroke-width="0.9"/>
<line x1="450.5" y1="386.3" x2="450.5" y2="388.8" stroke="#1e1e1e" stroke-width="0.9"/>
<text x="443.3" y="309.8" font-size="6.3" text-anchor="middle">BM</text>
<line x1="436.3" y1="319.8" x2="450.5" y2="319.8" stroke="#1e1e1e" stroke-width="0.9"/>
<text x="443.4" y="319.6" font-size="7.6" text-anchor="middle">**</text>
<text x="0" y="0" transform="translate(412.2 356) rotate(-90)" font-size="8.4" text-anchor="middle" textLength="65.7" lengthAdjust="spacingAndGlyphs">%CD45.2/%CD45.1</text>
<text transform="translate(434.6 394.6) rotate(-45)" x="0" y="0" font-size="6.4" text-anchor="end" dy="2.2">WT</text>
<text transform="translate(448.6 395.4) rotate(-45)" x="0" y="0" font-size="6.4" text-anchor="end" dy="2.2"><tspan font-style="italic">Dcaf8</tspan><tspan font-size="3.6" dy="-2.5">&#8722;/&#8722;</tspan></text>
<text transform="translate(7.12 441.3) scale(1.118 1)" x="0" y="0" font-size="11.8" font-weight="bold" fill="#111" stroke="#111">I</text>
<text x="25" y="465.7" font-size="6.3" text-anchor="middle">WT</text>
<text x="25" y="474.3" font-size="6.3" text-anchor="middle">or</text>
<text x="13.8" y="482" font-size="6.6" fill="#2a2a2a"><tspan font-style="italic">Dcaf8</tspan><tspan font-size="4.09" dy="-3.3">&#8722;/&#8722;</tspan><tspan dy="3.3"></tspan></text>
<text x="43.8" y="470.6" font-size="6.8" font-weight="bold" fill="#111" textLength="24.5" lengthAdjust="spacingAndGlyphs">LT-HSCs</text>
<text x="43.8" y="478.3" font-size="6.6">(CD45.2)</text>
<use href="#mouse" transform="translate(79 464.2) scale(1)"/>
<text x="115.5" y="465.8" font-size="6.6" textLength="59.5" lengthAdjust="spacingAndGlyphs">Irradiated recipients</text>
<text x="115.5" y="473.5" font-size="6.6">(CD45.1.2)</text>
<line x1="105.8" y1="479.6" x2="115.6" y2="485.6" stroke="#111" stroke-width="0.8"/>
<polygon points="115.6,485.6 112.26,485.31 113.82,482.75" fill="#111"/>
<use href="#mouse" transform="translate(118.4 484) scale(1)"/>
<use href="#rad" transform="translate(149.4 487.4) scale(1)"/>
<use href="#mouse" transform="translate(79 502.6) scale(1)"/>
<line x1="105.8" y1="508.2" x2="116.4" y2="500.8" stroke="#111" stroke-width="0.8"/>
<polygon points="116.4,500.8 114.8,503.75 113.08,501.29" fill="#111"/>
<text x="41" y="512.3" font-size="6.6" text-anchor="middle" textLength="34" lengthAdjust="spacingAndGlyphs">Competitor</text>
<text x="17" y="522.5" font-size="6.6" textLength="60" lengthAdjust="spacingAndGlyphs">Whole bone marrow</text>
<text x="17" y="530.8" font-size="6.6">(CD45.1)</text>
<text transform="translate(190.99 441.28) scale(0.905 1)" x="0" y="0" font-size="11.8" font-weight="bold" fill="#111" stroke="#111">J</text>
<polyline points="236.5,485.12 262,478.33 287.5,470.98 313,465.89" fill="none" stroke="#b0b0b0" stroke-width="0.95"/>
<polyline points="236.5,487.38 262,486.25 287.5,485.12 313,481.72" fill="none" stroke="#c8203c" stroke-width="0.95"/>
<line x1="236.5" y1="485.12" x2="236.5" y2="482.85" stroke="#b0b0b0" stroke-width="0.7"/>
<line x1="235" y1="482.85" x2="238" y2="482.85" stroke="#b0b0b0" stroke-width="0.7"/>
<circle cx="236.5" cy="485.12" r="1.3" fill="#9a9a9f"/>
<line x1="262" y1="478.33" x2="262" y2="476.07" stroke="#b0b0b0" stroke-width="0.7"/>
<line x1="260.5" y1="476.07" x2="263.5" y2="476.07" stroke="#b0b0b0" stroke-width="0.7"/>
<circle cx="262" cy="478.33" r="1.3" fill="#9a9a9f"/>
<line x1="287.5" y1="470.98" x2="287.5" y2="467.58" stroke="#b0b0b0" stroke-width="0.7"/>
<line x1="286" y1="467.58" x2="289" y2="467.58" stroke="#b0b0b0" stroke-width="0.7"/>
<circle cx="287.5" cy="470.98" r="1.3" fill="#9a9a9f"/>
<line x1="313" y1="465.89" x2="313" y2="461.36" stroke="#b0b0b0" stroke-width="0.7"/>
<line x1="311.5" y1="461.36" x2="314.5" y2="461.36" stroke="#b0b0b0" stroke-width="0.7"/>
<circle cx="313" cy="465.89" r="1.3" fill="#9a9a9f"/>
<line x1="236.5" y1="487.38" x2="236.5" y2="486.25" stroke="#c8203c" stroke-width="0.7"/>
<line x1="235" y1="486.25" x2="238" y2="486.25" stroke="#c8203c" stroke-width="0.7"/>
<polygon points="236.5,485.88 235.07,488.5 237.93,488.5" fill="#a80f2c"/>
<line x1="262" y1="486.25" x2="262" y2="483.98" stroke="#c8203c" stroke-width="0.7"/>
<line x1="260.5" y1="483.98" x2="263.5" y2="483.98" stroke="#c8203c" stroke-width="0.7"/>
<polygon points="262,484.75 260.57,487.37 263.43,487.37" fill="#a80f2c"/>
<line x1="287.5" y1="485.12" x2="287.5" y2="481.16" stroke="#c8203c" stroke-width="0.7"/>
<line x1="286" y1="481.16" x2="289" y2="481.16" stroke="#c8203c" stroke-width="0.7"/>
<polygon points="287.5,483.62 286.07,486.24 288.93,486.24" fill="#a80f2c"/>
<line x1="313" y1="481.72" x2="313" y2="477.2" stroke="#c8203c" stroke-width="0.7"/>
<line x1="311.5" y1="477.2" x2="314.5" y2="477.2" stroke="#c8203c" stroke-width="0.7"/>
<polygon points="313,480.22 311.57,482.85 314.43,482.85" fill="#a80f2c"/>
<line x1="223.7" y1="453.9" x2="223.7" y2="524.7" stroke="#1e1e1e" stroke-width="1.3"/>
<line x1="220.9" y1="524.7" x2="223.7" y2="524.7" stroke="#1e1e1e" stroke-width="0.9"/>
<text x="217.6" y="527.08" font-size="6.6" text-anchor="end">0</text>
<line x1="220.9" y1="502.08" x2="223.7" y2="502.08" stroke="#1e1e1e" stroke-width="0.9"/>
<text x="217.6" y="504.46" font-size="6.6" text-anchor="end">20</text>
<line x1="220.9" y1="479.46" x2="223.7" y2="479.46" stroke="#1e1e1e" stroke-width="0.9"/>
<text x="217.6" y="481.84" font-size="6.6" text-anchor="end">40</text>
<line x1="220.9" y1="456.84" x2="223.7" y2="456.84" stroke="#1e1e1e" stroke-width="0.9"/>
<text x="217.6" y="459.22" font-size="6.6" text-anchor="end">60</text>
<line x1="223.7" y1="524.7" x2="325.7" y2="524.7" stroke="#1e1e1e" stroke-width="1.3"/>
<line x1="236.5" y1="524.7" x2="236.5" y2="527.2" stroke="#1e1e1e" stroke-width="0.9"/>
<text x="236.5" y="536.9" font-size="6.6" text-anchor="middle">4</text>
<line x1="262" y1="524.7" x2="262" y2="527.2" stroke="#1e1e1e" stroke-width="0.9"/>
<text x="262" y="536.9" font-size="6.6" text-anchor="middle">8</text>
<line x1="287.5" y1="524.7" x2="287.5" y2="527.2" stroke="#1e1e1e" stroke-width="0.9"/>
<text x="287.5" y="536.9" font-size="6.6" text-anchor="middle">12</text>
<line x1="313" y1="524.7" x2="313" y2="527.2" stroke="#1e1e1e" stroke-width="0.9"/>
<text x="313" y="536.9" font-size="6.6" text-anchor="middle">16</text>
<text x="274.5" y="550" font-size="8.4" text-anchor="middle" textLength="83.4" lengthAdjust="spacingAndGlyphs">Weeks after transplantation</text>
<text x="0" y="0" transform="translate(204.2 490) rotate(-90)" font-size="8.4" text-anchor="middle" textLength="73" lengthAdjust="spacingAndGlyphs">% of donor derived cells</text>
<text x="236.5" y="478.9" font-size="6.6" text-anchor="middle">ns</text>
<text x="262" y="473" font-size="6.6" text-anchor="middle">ns</text>
<text x="287.5" y="467.7" font-size="7.6" text-anchor="middle">**</text>
<text x="313" y="461.1" font-size="7.6" text-anchor="middle">**</text>
<line x1="284.8" y1="504.4" x2="296.1" y2="504.4" stroke="#b0b0b0" stroke-width="1"/>
<circle cx="290.5" cy="504.4" r="1.9" fill="#9a9a9f"/>
<text x="299.3" y="506.6" font-size="6.6">WT</text>
<line x1="284.8" y1="515.2" x2="296.1" y2="515.2" stroke="#c8203c" stroke-width="1.1"/>
<polygon points="290.5,512.9 288.31,516.93 292.69,516.93" fill="#a80f2c"/>
<text x="299.3" y="517.4" font-size="6.6" fill="#2a2a2a"><tspan font-style="italic">Dcaf8</tspan><tspan font-size="4.09" dy="-3.3">&#8722;/&#8722;</tspan><tspan dy="3.3"></tspan></text>
<text transform="translate(342.06 441.3) scale(0.931 1)" x="0" y="0" font-size="11.8" font-weight="bold" fill="#111" stroke="#111">K</text>
<rect x="382.4" y="504.96" width="8.2" height="19.44" fill="#d7d7de"/>
<rect x="395.3" y="501.58" width="8" height="22.81" fill="#e9857f"/>
<line x1="386.5" y1="504.96" x2="386.5" y2="499.82" stroke="#9a9a9f" stroke-width="0.7"/>
<line x1="384.9" y1="499.82" x2="388.1" y2="499.82" stroke="#9a9a9f" stroke-width="0.7"/>
<line x1="386.5" y1="504.96" x2="386.5" y2="510.11" stroke="#9a9a9f" stroke-width="0.7"/>
<line x1="384.9" y1="510.11" x2="388.1" y2="510.11" stroke="#9a9a9f" stroke-width="0.7"/>
<line x1="399.3" y1="501.58" x2="399.3" y2="496.83" stroke="#a80f2c" stroke-width="0.7"/>
<line x1="397.7" y1="496.83" x2="400.9" y2="496.83" stroke="#a80f2c" stroke-width="0.7"/>
<line x1="399.3" y1="501.58" x2="399.3" y2="506.34" stroke="#a80f2c" stroke-width="0.7"/>
<line x1="397.7" y1="506.34" x2="400.9" y2="506.34" stroke="#a80f2c" stroke-width="0.7"/>
<circle cx="384.1" cy="499.05" r="1.15" fill="#9a9a9f"/>
<circle cx="388.9" cy="501.58" r="1.15" fill="#9a9a9f"/>
<circle cx="385.3" cy="503.7" r="1.15" fill="#9a9a9f"/>
<circle cx="387.7" cy="504.96" r="1.15" fill="#9a9a9f"/>
<circle cx="386.5" cy="507.5" r="1.15" fill="#9a9a9f"/>
<circle cx="384.1" cy="508.51" r="1.15" fill="#9a9a9f"/>
<circle cx="388.9" cy="510.54" r="1.15" fill="#9a9a9f"/>
<circle cx="386.5" cy="515.53" r="1.15" fill="#9a9a9f"/>
<polygon points="396.9,494.27 395.57,496.72 398.23,496.72" fill="#a80f2c"/>
<polygon points="401.7,496.81 400.37,499.25 403.03,499.25" fill="#a80f2c"/>
<polygon points="398.1,498.5 396.77,500.94 399.43,500.94" fill="#a80f2c"/>
<polygon points="400.5,500.19 399.17,502.63 401.83,502.63" fill="#a80f2c"/>
<polygon points="399.3,501.88 397.97,504.32 400.63,504.32" fill="#a80f2c"/>
<polygon points="396.9,503.56 395.57,506.01 398.23,506.01" fill="#a80f2c"/>
<polygon points="401.7,506.1 400.37,508.55 403.03,508.55" fill="#a80f2c"/>
<polygon points="399.3,509.48 397.97,511.93 400.63,511.93" fill="#a80f2c"/>
<rect x="416.9" y="514.68" width="8.5" height="9.72" fill="#d7d7de"/>
<rect x="430.3" y="512.15" width="8.4" height="12.25" fill="#e9857f"/>
<line x1="421.15" y1="514.68" x2="421.15" y2="511.65" stroke="#9a9a9f" stroke-width="0.7"/>
<line x1="419.55" y1="511.65" x2="422.75" y2="511.65" stroke="#9a9a9f" stroke-width="0.7"/>
<line x1="421.15" y1="514.68" x2="421.15" y2="517.72" stroke="#9a9a9f" stroke-width="0.7"/>
<line x1="419.55" y1="517.72" x2="422.75" y2="517.72" stroke="#9a9a9f" stroke-width="0.7"/>
<line x1="434.5" y1="512.15" x2="434.5" y2="509.51" stroke="#a80f2c" stroke-width="0.7"/>
<line x1="432.9" y1="509.51" x2="436.1" y2="509.51" stroke="#a80f2c" stroke-width="0.7"/>
<line x1="434.5" y1="512.15" x2="434.5" y2="514.79" stroke="#a80f2c" stroke-width="0.7"/>
<line x1="432.9" y1="514.79" x2="436.1" y2="514.79" stroke="#a80f2c" stroke-width="0.7"/>
<circle cx="418.75" cy="510.46" r="1.15" fill="#9a9a9f"/>
<circle cx="423.55" cy="513.41" r="1.15" fill="#9a9a9f"/>
<circle cx="419.95" cy="515.11" r="1.15" fill="#9a9a9f"/>
<circle cx="422.35" cy="516.37" r="1.15" fill="#9a9a9f"/>
<circle cx="421.15" cy="517.64" r="1.15" fill="#9a9a9f"/>
<circle cx="418.75" cy="518.91" r="1.15" fill="#9a9a9f"/>
<circle cx="423.55" cy="520.17" r="1.15" fill="#9a9a9f"/>
<polygon points="432.1,507.79 430.77,510.24 433.43,510.24" fill="#a80f2c"/>
<polygon points="436.9,509.06 435.57,511.51 438.23,511.51" fill="#a80f2c"/>
<polygon points="433.3,510.32 431.97,512.77 434.63,512.77" fill="#a80f2c"/>
<polygon points="435.7,511.17 434.37,513.62 437.03,513.62" fill="#a80f2c"/>
<polygon points="434.5,512.01 433.17,514.46 435.83,514.46" fill="#a80f2c"/>
<polygon points="432.1,512.86 430.77,515.31 433.43,515.31" fill="#a80f2c"/>
<polygon points="436.9,514.55 435.57,517 438.23,517" fill="#a80f2c"/>
<polygon points="434.5,516.24 433.17,518.69 435.83,518.69" fill="#a80f2c"/>
<rect x="451.8" y="471.16" width="8.6" height="53.24" fill="#d7d7de"/>
<rect x="465.6" y="473.7" width="8.4" height="50.7" fill="#e9857f"/>
<line x1="456.1" y1="471.16" x2="456.1" y2="463.59" stroke="#9a9a9f" stroke-width="0.7"/>
<line x1="454.5" y1="463.59" x2="457.7" y2="463.59" stroke="#9a9a9f" stroke-width="0.7"/>
<line x1="456.1" y1="471.16" x2="456.1" y2="478.74" stroke="#9a9a9f" stroke-width="0.7"/>
<line x1="454.5" y1="478.74" x2="457.7" y2="478.74" stroke="#9a9a9f" stroke-width="0.7"/>
<line x1="469.8" y1="473.7" x2="469.8" y2="467.63" stroke="#a80f2c" stroke-width="0.7"/>
<line x1="468.2" y1="467.63" x2="471.4" y2="467.63" stroke="#a80f2c" stroke-width="0.7"/>
<line x1="469.8" y1="473.7" x2="469.8" y2="479.77" stroke="#a80f2c" stroke-width="0.7"/>
<line x1="468.2" y1="479.77" x2="471.4" y2="479.77" stroke="#a80f2c" stroke-width="0.7"/>
<circle cx="453.7" cy="466.52" r="1.15" fill="#9a9a9f"/>
<circle cx="458.5" cy="466.52" r="1.15" fill="#9a9a9f"/>
<circle cx="454.9" cy="472.01" r="1.15" fill="#9a9a9f"/>
<circle cx="457.3" cy="475.39" r="1.15" fill="#9a9a9f"/>
<circle cx="456.1" cy="476.23" r="1.15" fill="#9a9a9f"/>
<circle cx="453.7" cy="478.77" r="1.15" fill="#9a9a9f"/>
<circle cx="458.5" cy="480.71" r="1.15" fill="#9a9a9f"/>
<circle cx="456.1" cy="490.77" r="1.15" fill="#9a9a9f"/>
<polygon points="467.4,465.2 466.07,467.65 468.73,467.65" fill="#a80f2c"/>
<polygon points="472.2,470.61 470.87,473.06 473.53,473.06" fill="#a80f2c"/>
<polygon points="468.6,473.99 467.27,476.44 469.93,476.44" fill="#a80f2c"/>
<polygon points="471,474.83 469.67,477.28 472.33,477.28" fill="#a80f2c"/>
<polygon points="469.8,476.52 468.47,478.97 471.13,478.97" fill="#a80f2c"/>
<polygon points="467.4,479.06 466.07,481.51 468.73,481.51" fill="#a80f2c"/>
<polygon points="472.2,484.64 470.87,487.09 473.53,487.09" fill="#a80f2c"/>
<rect x="487.4" y="507.08" width="8.9" height="17.32" fill="#d7d7de"/>
<rect x="500.5" y="512.57" width="8.5" height="11.83" fill="#e9857f"/>
<line x1="491.85" y1="507.08" x2="491.85" y2="503.38" stroke="#9a9a9f" stroke-width="0.7"/>
<line x1="490.25" y1="503.38" x2="493.45" y2="503.38" stroke="#9a9a9f" stroke-width="0.7"/>
<line x1="491.85" y1="507.08" x2="491.85" y2="510.77" stroke="#9a9a9f" stroke-width="0.7"/>
<line x1="490.25" y1="510.77" x2="493.45" y2="510.77" stroke="#9a9a9f" stroke-width="0.7"/>
<line x1="504.75" y1="512.57" x2="504.75" y2="509.14" stroke="#a80f2c" stroke-width="0.7"/>
<line x1="503.15" y1="509.14" x2="506.35" y2="509.14" stroke="#a80f2c" stroke-width="0.7"/>
<line x1="504.75" y1="512.57" x2="504.75" y2="516" stroke="#a80f2c" stroke-width="0.7"/>
<line x1="503.15" y1="516" x2="506.35" y2="516" stroke="#a80f2c" stroke-width="0.7"/>
<circle cx="489.45" cy="502.43" r="1.15" fill="#9a9a9f"/>
<circle cx="494.25" cy="504.12" r="1.15" fill="#9a9a9f"/>
<circle cx="490.65" cy="505.81" r="1.15" fill="#9a9a9f"/>
<circle cx="493.05" cy="507.5" r="1.15" fill="#9a9a9f"/>
<circle cx="491.85" cy="509.19" r="1.15" fill="#9a9a9f"/>
<circle cx="489.45" cy="511.72" r="1.15" fill="#9a9a9f"/>
<circle cx="494.25" cy="514.26" r="1.15" fill="#9a9a9f"/>
<polygon points="502.35,505.25 501.02,507.7 503.68,507.7" fill="#a80f2c"/>
<polygon points="507.15,507.79 505.82,510.24 508.48,510.24" fill="#a80f2c"/>
<polygon points="503.55,509.48 502.22,511.93 504.88,511.93" fill="#a80f2c"/>
<polygon points="505.95,511.17 504.62,513.62 507.28,513.62" fill="#a80f2c"/>
<polygon points="504.75,512.86 503.42,515.31 506.08,515.31" fill="#a80f2c"/>
<polygon points="502.35,514.55 501.02,517 503.68,517" fill="#a80f2c"/>
<polygon points="507.15,515.39 505.82,517.84 508.48,517.84" fill="#a80f2c"/>
<polygon points="504.75,516.24 503.42,518.69 506.08,518.69" fill="#a80f2c"/>
<line x1="376.8" y1="454.8" x2="376.8" y2="524.4" stroke="#1e1e1e" stroke-width="1.3"/>
<line x1="374" y1="524.4" x2="376.8" y2="524.4" stroke="#1e1e1e" stroke-width="0.9"/>
<text x="370.7" y="526.78" font-size="6.6" text-anchor="end">0</text>
<line x1="374" y1="507.5" x2="376.8" y2="507.5" stroke="#1e1e1e" stroke-width="0.9"/>
<text x="370.7" y="509.88" font-size="6.6" text-anchor="end">20</text>
<line x1="374" y1="490.6" x2="376.8" y2="490.6" stroke="#1e1e1e" stroke-width="0.9"/>
<text x="370.7" y="492.98" font-size="6.6" text-anchor="end">40</text>
<line x1="374" y1="473.7" x2="376.8" y2="473.7" stroke="#1e1e1e" stroke-width="0.9"/>
<text x="370.7" y="476.08" font-size="6.6" text-anchor="end">60</text>
<line x1="374" y1="456.8" x2="376.8" y2="456.8" stroke="#1e1e1e" stroke-width="0.9"/>
<text x="370.7" y="459.18" font-size="6.6" text-anchor="end">80</text>
<line x1="376.8" y1="524.4" x2="509.6" y2="524.4" stroke="#1e1e1e" stroke-width="1.3"/>
<line x1="391.8" y1="524.4" x2="391.8" y2="526.9" stroke="#1e1e1e" stroke-width="0.9"/>
<line x1="427.1" y1="524.4" x2="427.1" y2="526.9" stroke="#1e1e1e" stroke-width="0.9"/>
<line x1="462.4" y1="524.4" x2="462.4" y2="526.9" stroke="#1e1e1e" stroke-width="0.9"/>
<line x1="497.3" y1="524.4" x2="497.3" y2="526.9" stroke="#1e1e1e" stroke-width="0.9"/>
<text x="392.1" y="537.1" font-size="6.7" text-anchor="middle">Myeloid</text>
<text x="428.1" y="537.1" font-size="6.7" text-anchor="middle">Neutrophils</text>
<text x="462.4" y="537.1" font-size="6.7" text-anchor="middle">B</text>
<text x="497.3" y="537.1" font-size="6.7" text-anchor="middle">T</text>
<text x="0" y="0" transform="translate(358.3 490.2) rotate(-90)" font-size="8.4" text-anchor="middle" textLength="71" lengthAdjust="spacingAndGlyphs">Lineage distribution (%)</text>
<text x="379.1" y="483.7" font-size="6.6" textLength="27.4" lengthAdjust="spacingAndGlyphs"><tspan font-style="italic">P</tspan> = .0531</text>
<line x1="386" y1="485.8" x2="399" y2="485.8" stroke="#1e1e1e" stroke-width="0.9"/>
<line x1="421.2" y1="485" x2="434.3" y2="485" stroke="#1e1e1e" stroke-width="0.9"/>
<text x="427.8" y="484.3" font-size="7.6" text-anchor="middle">*</text>
<line x1="456" y1="454.8" x2="469.4" y2="454.8" stroke="#1e1e1e" stroke-width="0.9"/>
<text x="462.7" y="453" font-size="6.6" text-anchor="middle">ns</text>
<line x1="491.4" y1="485" x2="504.1" y2="485" stroke="#1e1e1e" stroke-width="0.9"/>
<text x="497.8" y="484.3" font-size="7.6" text-anchor="middle">*</text>
<circle cx="389.5" cy="447.7" r="2.2" fill="#9a9a9f"/>
<text x="393.3" y="450" font-size="6.6">WT</text>
<polygon points="389.6,456.3 387.23,460.68 391.98,460.68" fill="#a80f2c"/>
<text x="394.5" y="461.1" font-size="6.6" fill="#2a2a2a"><tspan font-style="italic">Dcaf8</tspan><tspan font-size="4.09" dy="-3.3">&#8722;/&#8722;</tspan><tspan dy="3.3"></tspan></text>
<text transform="translate(7.5 577.7) scale(0.826 1)" x="0" y="0" font-size="11.8" font-weight="bold" fill="#111" stroke="#111">L</text>
<polyline points="89.28,593.4 89.28,593.4 89.28,601.14 94.99,601.14 94.99,616.61 106.41,616.61 106.41,632.09 112.12,632.09 112.12,655.3" fill="none" stroke="#c0304c" stroke-width="1.2"/>
<polyline points="43.6,593.4 106.41,593.4 106.41,601.14 112.12,601.14 112.12,624.35 117.83,624.35 117.83,632.09 123.54,632.09 123.54,639.82 129.25,639.82 129.25,655.3" fill="none" stroke="#b4b4b4" stroke-width="1.1"/>
<line x1="43.9" y1="587.3" x2="43.9" y2="658.2" stroke="#1e1e1e" stroke-width="1.4"/>
<line x1="41" y1="655.3" x2="43.9" y2="655.3" stroke="#1e1e1e" stroke-width="1"/>
<text x="37.8" y="657.7" font-size="7" text-anchor="end">0</text>
<line x1="41" y1="624.35" x2="43.9" y2="624.35" stroke="#1e1e1e" stroke-width="1"/>
<text x="37.8" y="626.75" font-size="7" text-anchor="end">50</text>
<line x1="41" y1="593.4" x2="43.9" y2="593.4" stroke="#1e1e1e" stroke-width="1"/>
<text x="37.8" y="595.8" font-size="7" text-anchor="end">100</text>
<line x1="43" y1="655.3" x2="145.8" y2="655.3" stroke="#1e1e1e" stroke-width="1.4"/>
<line x1="43.6" y1="655.3" x2="43.6" y2="658.6" stroke="#1e1e1e" stroke-width="1"/>
<text x="43.6" y="667.8" font-size="7" text-anchor="middle">0</text>
<line x1="72.15" y1="655.3" x2="72.15" y2="658.6" stroke="#1e1e1e" stroke-width="1"/>
<text x="72.15" y="667.8" font-size="7" text-anchor="middle">5</text>
<line x1="100.7" y1="655.3" x2="100.7" y2="658.6" stroke="#1e1e1e" stroke-width="1"/>
<text x="100.7" y="667.8" font-size="7" text-anchor="middle">10</text>
<line x1="129.25" y1="655.3" x2="129.25" y2="658.6" stroke="#1e1e1e" stroke-width="1"/>
<text x="129.25" y="667.8" font-size="7" text-anchor="middle">15</text>
<text x="86.5" y="681" font-size="8.4" text-anchor="middle" textLength="45.5" lengthAdjust="spacingAndGlyphs">Days post-5-FU</text>
<text x="0" y="0" transform="translate(21 624.4) rotate(-90)" font-size="8.4" text-anchor="middle" textLength="36" lengthAdjust="spacingAndGlyphs">Survival (%)</text>
<text x="94.1" y="638.1" font-size="6.8" text-anchor="end" textLength="27.5" lengthAdjust="spacingAndGlyphs"><tspan font-style="italic">P</tspan> = .0081</text>
<line x1="149.3" y1="616.4" x2="161.4" y2="616.4" stroke="#b4b4b4" stroke-width="1.1"/>
<text x="164.9" y="618.7" font-size="6.6" textLength="31" lengthAdjust="spacingAndGlyphs">WT (n = 8)</text>
<line x1="149.3" y1="626.5" x2="161.4" y2="626.5" stroke="#c0304c" stroke-width="1.1"/>
<text x="164.9" y="628.8" font-size="6.6" fill="#2a2a2a"><tspan font-style="italic">Dcaf8</tspan><tspan font-size="4.09" dy="-3.3">&#8722;/&#8722;</tspan><tspan dy="3.3"> (n = 8)</tspan></text>
<text transform="translate(224.84 577.7) scale(1.212 1)" x="0" y="0" font-size="11.8" font-weight="bold" fill="#111" stroke="#111">M</text>
<polyline points="313,591.1 313,594.4 322.2,594.4 322.2,598.1 329.5,598.1 329.5,600 331,600 331,601.9 339.3,601.9 339.3,605.7 342.4,605.7 342.4,610.4 345.4,610.4 345.4,615.5 348.5,615.5 348.5,619.3 350.2,619.3 350.2,627 351.2,627 351.2,634.3 353.3,634.3 353.3,648.3 361.5,648.3 361.5,655.3" fill="none" stroke="#c0304c" stroke-width="1.1"/>
<polyline points="267,591.1 316.5,591.1 316.5,592.3 337.2,592.3 337.2,594 339,594 339,596 341.5,596 341.5,598 343.5,598 343.5,600 347.2,600 347.2,601.7 351.1,601.7 351.1,608.7 352.4,608.7 352.4,620 355.9,620 355.9,626.1 360.2,626.1 360.2,632.2 361.1,632.2 361.1,643.5 362.8,643.5 362.8,649.6 365.9,649.6" fill="none" stroke="#a8b6bc" stroke-width="1.1"/>
<line x1="365.9" y1="648.1" x2="365.9" y2="651.1" stroke="#a8b6bc" stroke-width="0.8"/>
<line x1="266.4" y1="584.6" x2="266.4" y2="657.5" stroke="#1e1e1e" stroke-width="1.4"/>
<line x1="263.4" y1="655.3" x2="266.4" y2="655.3" stroke="#1e1e1e" stroke-width="1"/>
<text x="259.9" y="657.7" font-size="7" text-anchor="end">0</text>
<line x1="263.4" y1="623.15" x2="266.4" y2="623.15" stroke="#1e1e1e" stroke-width="1"/>
<text x="259.9" y="625.55" font-size="7" text-anchor="end">50</text>
<line x1="263.4" y1="591" x2="266.4" y2="591" stroke="#1e1e1e" stroke-width="1"/>
<text x="259.9" y="593.4" font-size="7" text-anchor="end">100</text>
<line x1="265.6" y1="655.3" x2="376" y2="655.3" stroke="#1e1e1e" stroke-width="1.4"/>
<line x1="267" y1="655.3" x2="267" y2="658.3" stroke="#1e1e1e" stroke-width="1"/>
<text x="267" y="667.6" font-size="7" text-anchor="middle">0</text>
<line x1="288.14" y1="655.3" x2="288.14" y2="658.3" stroke="#1e1e1e" stroke-width="1"/>
<text x="288.14" y="667.6" font-size="7" text-anchor="middle">200</text>
<line x1="309.28" y1="655.3" x2="309.28" y2="658.3" stroke="#1e1e1e" stroke-width="1"/>
<text x="309.28" y="667.6" font-size="7" text-anchor="middle">400</text>
<line x1="330.42" y1="655.3" x2="330.42" y2="658.3" stroke="#1e1e1e" stroke-width="1"/>
<text x="330.42" y="667.6" font-size="7" text-anchor="middle">600</text>
<line x1="351.56" y1="655.3" x2="351.56" y2="658.3" stroke="#1e1e1e" stroke-width="1"/>
<text x="351.56" y="667.6" font-size="7" text-anchor="middle">800</text>
<line x1="372.7" y1="655.3" x2="372.7" y2="658.3" stroke="#1e1e1e" stroke-width="1"/>
<text x="372.7" y="667.6" font-size="7" text-anchor="middle">1000</text>
<text x="319.9" y="680.6" font-size="8.6" text-anchor="middle" textLength="35.6" lengthAdjust="spacingAndGlyphs">Time (days)</text>
<text x="0" y="0" transform="translate(243.6 623) rotate(-90)" font-size="8.4" text-anchor="middle" textLength="66" lengthAdjust="spacingAndGlyphs">Probability of survival</text>
<text x="270.4" y="643" font-size="7" textLength="62.5" lengthAdjust="spacingAndGlyphs">Median survival days:</text>
<text x="270.4" y="651.2" font-size="7" textLength="78" lengthAdjust="spacingAndGlyphs">838 (WT) vs. 790 (<tspan font-style="italic">Dcaf8</tspan><tspan font-size="4.2" dy="-3">&#8722;/&#8722;</tspan><tspan dy="3">)</tspan></text>
<text x="370.9" y="633.1" font-size="6.8" textLength="28.9" lengthAdjust="spacingAndGlyphs"><tspan font-style="italic">P</tspan> = .0065</text>
<line x1="379.5" y1="592.7" x2="391.6" y2="592.7" stroke="#c4b6be" stroke-width="1.1"/>
<text x="395.1" y="595" font-size="6.6" textLength="34.6" lengthAdjust="spacingAndGlyphs">WT (n = 47)</text>
<line x1="379.5" y1="603" x2="391.6" y2="603" stroke="#c0304c" stroke-width="1.1"/>
<text x="395.1" y="605.3" font-size="6.6" fill="#2a2a2a"><tspan font-style="italic">Dcaf8</tspan><tspan font-size="4.09" dy="-3.3">&#8722;/&#8722;</tspan><tspan dy="3.3"> (n = 34)</tspan></text>
<rect x="0.5" y="0.5" width="519" height="689" fill="none" stroke="#4a4a4a" stroke-width="1.2"/>
</svg>
</body></html>
